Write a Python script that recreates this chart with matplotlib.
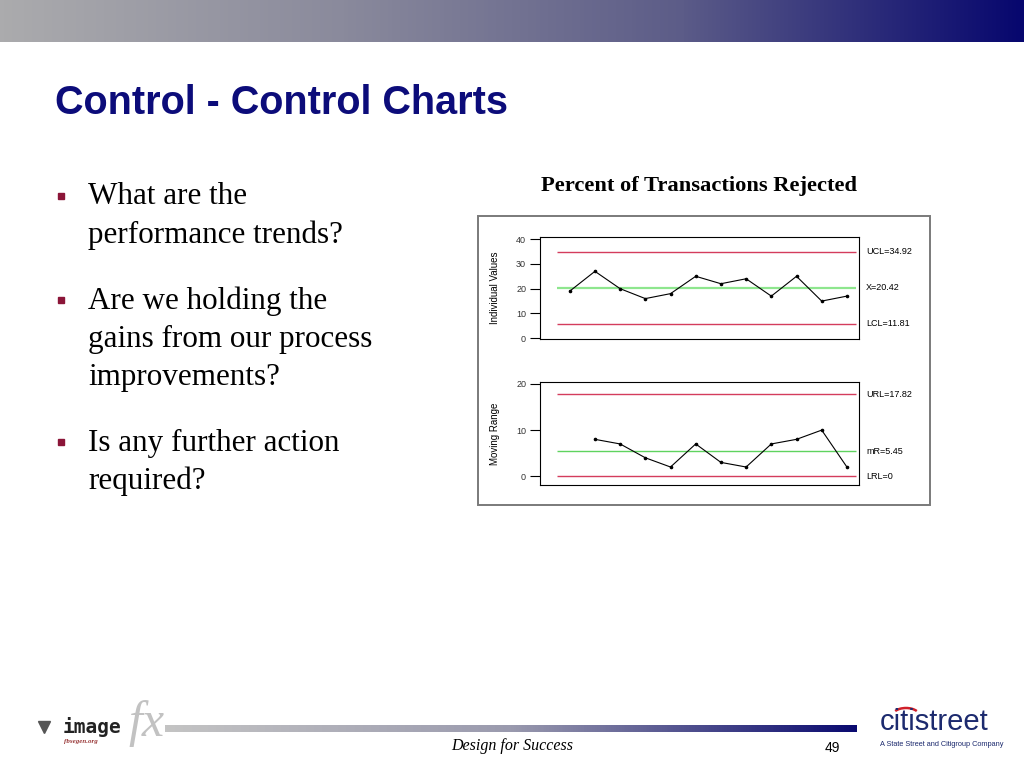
import matplotlib
matplotlib.use("Agg")
import matplotlib.pyplot as plt
import numpy as np
from matplotlib.colors import LinearSegmentedColormap
from matplotlib.patches import Rectangle, Arc

# ---- data ----
samples = list(range(1, 13))
individual_values = [19, 27, 20, 16, 18, 25, 22, 24, 17, 25, 15, 17]
mr_samples = list(range(2, 13))
moving_range = [8, 7, 4, 2, 7, 3, 2, 7, 8, 10, 2]

ind_limits = [34.92, 20.42, 5.92]
ind_labels = ["UCL=34.92", "X=20.42", "LCL=11.81"]
mr_limits = [17.82, 5.45, 0]
mr_labels = ["URL=17.82", "mR=5.45", "LRL=0"]
ind_ticks = [0, 10, 20, 30, 40]
mr_ticks = [0, 10, 20]

slide_title = "Control - Control Charts"
chart_title = "Percent of Transactions Rejected"
bullets = [
    ["What are the", "performance trends?"],
    ["Are we holding the", "gains from our process", "improvements?"],
    ["Is any further action", "required?"],
]
footer_text = "Design for Success"
page_number = "49"

W, H = 1024, 768
RED = "#d43c5c"


def px_box(left, top, right, bottom):
    return [left / W, 1 - bottom / H, (right - left) / W, (bottom - top) / H]


fig = plt.figure(figsize=(W / 100, H / 100), dpi=100)
fig.patch.set_facecolor("white")

# background layer in pixel coordinates
bg = fig.add_axes([0, 0, 1, 1])
bg.set_xlim(0, W)
bg.set_ylim(H, 0)
bg.axis("off")

header_cmap = LinearSegmentedColormap.from_list(
    "hdr", ["#ababad", "#8a8a9c", "#5c5c88", "#06066e"])
grad = np.linspace(0, 1, 512).reshape(1, -1)
bg.imshow(grad, cmap=header_cmap, extent=[0, W, 42, 0], aspect="auto")

footer_cmap = LinearSegmentedColormap.from_list(
    "ftr", ["#c4c4c4", "#9a9aae", "#0a0a70"])
bg.imshow(grad, cmap=footer_cmap, extent=[165, 857, 732, 725], aspect="auto")

bg.text(55, 103, slide_title, fontsize=28.5, fontweight="bold", color="#0c0c7a",
        family="Liberation Sans", ha="left", va="center")

# bullets
y = 197
for item in bullets:
    bg.plot(61, y - 1, marker="s", ms=5, color="#8b1538", ls="none")
    for line in item:
        bg.text(88, y, line, fontsize=22.4, family="Liberation Serif",
                ha="left", va="center", color="black")
        y += 38
    y += 28

# chart frame and title
bg.add_patch(Rectangle((478, 216), 452, 289, fill=False, ec="#7a7a7a", lw=1.4))
bg.text(699, 186, chart_title, fontsize=16.2, fontweight="bold",
        family="Liberation Serif", ha="center", va="center")

# footer
bg.text(512, 746, footer_text, fontsize=11.5, style="italic",
        family="Liberation Serif", ha="center", va="center")
bg.text(832, 748, page_number, fontsize=10, family="Liberation Sans",
        ha="center", va="center")
bg.text(128, 724, "fx", fontsize=36, style="italic", family="Liberation Serif",
        ha="left", va="center", color="#c2c2c2", zorder=0)
bg.text(63, 727, "image", fontsize=14, fontweight="bold",
        family="DejaVu Sans Mono", ha="left", va="center", color="#222222")
bg.text(64, 741, "fbsegen.org", fontsize=5, style="italic", fontweight="bold",
        family="Liberation Serif", ha="left", va="center", color="#9a3a3a")
bg.plot(44, 727, marker="v", ms=9, color="#555555", ls="none")
bg.text(880, 722, "citistreet", fontsize=21, family="Liberation Sans",
        ha="left", va="center", color="#1c2a6e")
bg.add_patch(Arc((906, 715), 26, 14, theta1=200, theta2=340,
                 color="#d0202a", lw=1.8))
bg.text(880, 744, "A State Street and Citigroup Company", fontsize=5.3,
        family="Liberation Sans", ha="left", va="center", color="#1c2a6e")


def control_panel(ax, x, y, limits, labels, styles, ticks, ylim, ylabel):
    for val, lab, (col, lw) in zip(limits, labels, styles):
        ax.hlines(val, 0.5, 12.36, colors=col, lw=lw, zorder=1)
        ax.text(1.022, val, lab, transform=ax.get_yaxis_transform(),
                fontsize=6.5, family="Liberation Sans", va="center", ha="left")
    ax.plot(x, y, color="black", lw=0.8, marker="o", ms=1.6, zorder=3)
    ax.set_xlim(-0.18, 12.48)
    ax.set_ylim(*ylim)
    ax.set_xticks([])
    ax.set_yticks(ticks)
    ax.tick_params(axis="y", length=7, width=0.8, labelsize=6.5, pad=3,
                   labelcolor="#333333")
    for lbl in ax.get_yticklabels():
        lbl.set_family("Liberation Sans")
    for sp in ax.spines.values():
        sp.set_linewidth(0.8)
    ax.text(-0.141, 0.5, ylabel, rotation=90, transform=ax.transAxes,
            ha="center", va="center", fontsize=7, family="Liberation Sans")


ax1 = fig.add_axes(px_box(540, 237, 859, 339))
control_panel(ax1, samples, individual_values, ind_limits, ind_labels,
              [(RED, 1.0), ("#8ee68e", 1.6), (RED, 1.0)],
              ind_ticks, (-0.3, 40.85), "Individual Values")

ax2 = fig.add_axes(px_box(540, 382, 859, 485))
control_panel(ax2, mr_samples, moving_range, mr_limits, mr_labels,
              [(RED, 1.0), ("#5fd35f", 1.0), (RED, 1.0)],
              mr_ticks, (-1.9, 20.43), "Moving Range")

fig.savefig("out.png", dpi=100)
